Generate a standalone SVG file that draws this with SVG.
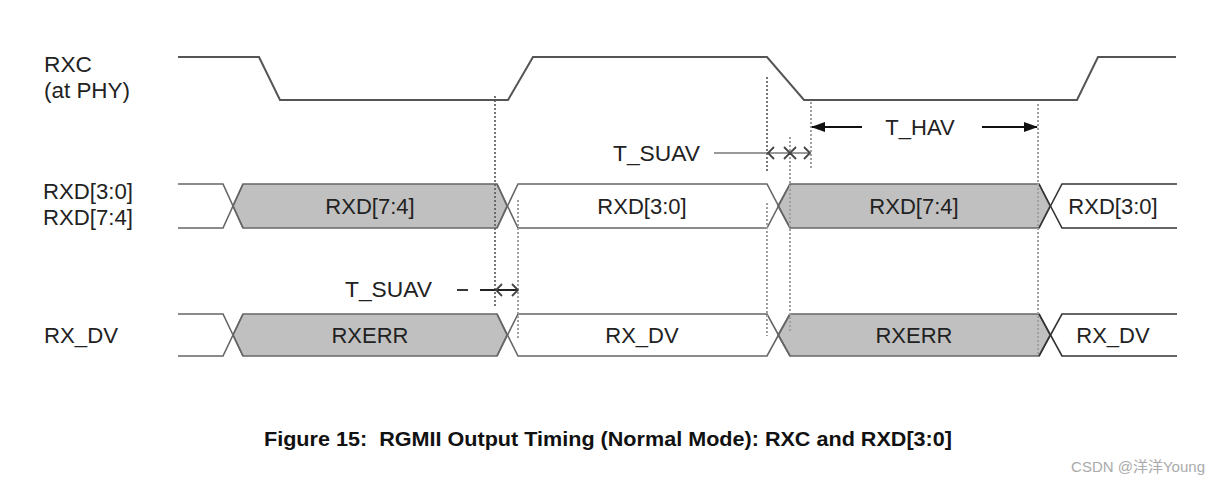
<svg xmlns="http://www.w3.org/2000/svg" width="1220" height="486" viewBox="0 0 1220 486">
<defs>
<style>
.lbl{font-family:"Liberation Sans",Arial,Helvetica,sans-serif;font-size:22px;fill:#222}
.mid{text-anchor:middle}
.clk{fill:none;stroke:#555;stroke-width:2}
.bus{fill:none;stroke:#666;stroke-width:1.6}
.shade{fill:#c0c0c0;stroke:#666;stroke-width:1.6}
.dot{stroke:#a0a0a0;stroke-width:2;stroke-dasharray:2,2;fill:none}
.dotdk{stroke:#555;stroke-width:1.6;stroke-dasharray:2,2;fill:none}
.dim{stroke:#111;stroke-width:2;fill:none}
.chev{stroke:#444;stroke-width:1.8;fill:none}
</style>
<marker id="ah" viewBox="0 0 14 10" refX="13" refY="5" markerWidth="14" markerHeight="10" markerUnits="userSpaceOnUse" orient="auto">
<path d="M0,0 L14,5 L0,10 Z" fill="#111"/>
</marker>
</defs>
<rect width="1220" height="486" fill="#fff"/>

<g id="labels">
<text class="lbl" x="44" y="72" textLength="48" lengthAdjust="spacingAndGlyphs">RXC</text>
<text class="lbl" x="44" y="98" textLength="86" lengthAdjust="spacingAndGlyphs">(at PHY)</text>
<text class="lbl" x="43" y="199" textLength="90" lengthAdjust="spacingAndGlyphs">RXD[3:0]</text>
<text class="lbl" x="43" y="225" textLength="90" lengthAdjust="spacingAndGlyphs">RXD[7:4]</text>
<text class="lbl" x="44" y="343" textLength="74" lengthAdjust="spacingAndGlyphs">RX_DV</text>
</g>

<g id="rxc">
<polyline class="clk" points="178,57 259,57 280,100 508,100 533,57 767,57 804,100 1077,100 1098,57 1176,57"/>
</g>

<g id="rxd">
<polygon class="shade" points="233,206 243,184 497,184 507,206 497,228 243,228"/>
<polygon class="shade" points="778,206 790,184 1039,184 1050,206 1039,228 790,228"/>
<polyline class="bus" points="178,184 223,184 243,228"/>
<polyline class="bus" points="178,228 223,228 243,184"/>
<polyline class="bus" points="497,184 518,228 767,228 790,184"/>
<polyline class="bus" points="497,228 518,184 767,184 790,228"/>
<polyline class="bus" points="1039,184 1062,228 1177,228" style="stroke:#333"/>
<polyline class="bus" points="1039,228 1062,184 1177,184" style="stroke:#333"/>
<text class="lbl mid" x="370" y="214">RXD[7:4]</text>
<text class="lbl mid" x="642" y="214">RXD[3:0]</text>
<text class="lbl mid" x="914" y="214">RXD[7:4]</text>
<text class="lbl mid" x="1113" y="214">RXD[3:0]</text>
</g>

<g id="rxdv">
<polygon class="shade" points="233,335 243,314 497,314 507,335 497,356 243,356"/>
<polygon class="shade" points="778,335 790,314 1039,314 1050,335 1039,356 790,356"/>
<polyline class="bus" points="178,314 223,314 243,356"/>
<polyline class="bus" points="178,356 223,356 243,314"/>
<polyline class="bus" points="497,314 518,356 767,356 790,314"/>
<polyline class="bus" points="497,356 518,314 767,314 790,356"/>
<polyline class="bus" points="1039,314 1062,356 1177,356" style="stroke:#333"/>
<polyline class="bus" points="1039,356 1062,314 1177,314" style="stroke:#333"/>
<text class="lbl mid" x="370" y="343">RXERR</text>
<text class="lbl mid" x="642" y="343">RX_DV</text>
<text class="lbl mid" x="914" y="343">RXERR</text>
<text class="lbl mid" x="1113" y="343">RX_DV</text>
</g>

<g id="connectors">
<line class="dotdk" x1="495" y1="96" x2="495" y2="308"/>
<line class="dot" x1="518" y1="200" x2="518" y2="340"/>
<line class="dotdk" x1="767" y1="77" x2="767" y2="172"/>
<line class="dot" x1="767" y1="203" x2="767" y2="336"/>
<line class="dot" x1="790" y1="137" x2="790" y2="333"/>
<line class="dot" x1="811" y1="102" x2="811" y2="170"/>
<line class="dot" x1="1038" y1="104" x2="1038" y2="356"/>
</g>

<g id="t-hav">
<line class="dim" x1="862" y1="127" x2="812" y2="127" marker-end="url(#ah)"/>
<line class="dim" x1="982" y1="127" x2="1037" y2="127" marker-end="url(#ah)"/>
<text class="lbl mid" x="920" y="135">T_HAV</text>
</g>

<g id="t-suav-top">
<text class="lbl" x="613" y="161" textLength="87" lengthAdjust="spacingAndGlyphs">T_SUAV</text>
<line x1="714" y1="153" x2="810" y2="153" stroke="#777" stroke-width="1.6"/>
<path class="chev" d="M774,147 L768,153 L774,159 M784,147 L790,153 L784,159 M796,147 L790,153 L796,159 M804,147 L810,153 L804,159"/>
</g>

<g id="t-suav-bottom">
<text class="lbl" x="345" y="297" textLength="87" lengthAdjust="spacingAndGlyphs">T_SUAV</text>
<line x1="457" y1="290" x2="468" y2="290" stroke="#222" stroke-width="1.8"/>
<line x1="480" y1="290" x2="518" y2="290" stroke="#222" stroke-width="1.8"/>
<path class="chev" d="M502,284 L496,290 L502,296 M512,284 L518,290 L512,296"/>
</g>

<text x="608" y="446" font-family="Liberation Sans,Arial,sans-serif" font-weight="bold" font-size="20.5" fill="#111" text-anchor="middle" textLength="688" lengthAdjust="spacingAndGlyphs" xml:space="preserve">Figure 15:  RGMII Output Timing (Normal Mode): RXC and RXD[3:0]</text>
<text x="1205" y="472" font-family="Liberation Sans,'Noto Sans CJK SC',sans-serif" font-size="15" fill="#aaa" text-anchor="end">CSDN @洋洋Young</text>
</svg>
